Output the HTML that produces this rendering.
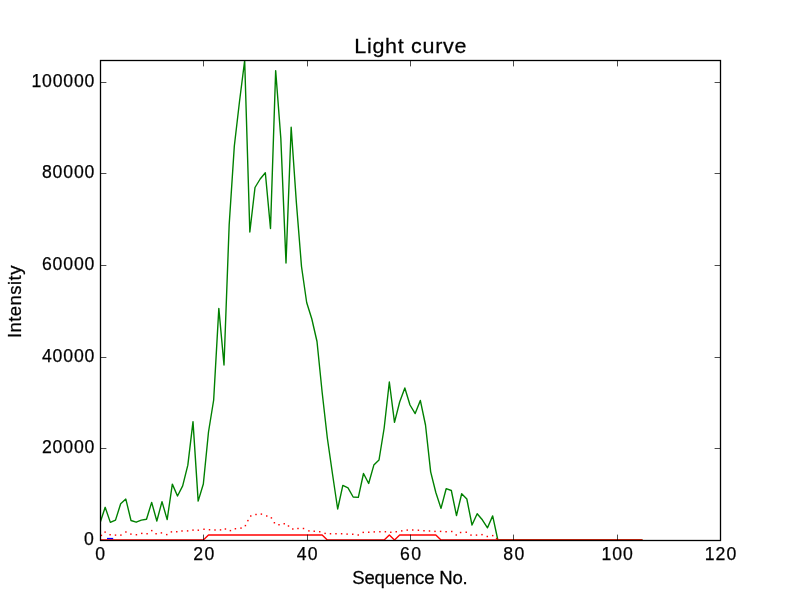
<!DOCTYPE html>
<html><head><meta charset="utf-8"><title>Light curve</title>
<style>
html,body{margin:0;padding:0;background:#fff;}
body{width:800px;height:600px;overflow:hidden;}
svg{display:block;}
text{font-family:"Liberation Sans",sans-serif;fill:#000;stroke:#000;stroke-width:0.25px;}
</style></head><body>
<svg width="800" height="600" viewBox="0 0 800 600">
<rect x="0" y="0" width="800" height="600" fill="#ffffff"/>
<defs><clipPath id="ax"><rect x="100" y="60" width="620" height="481"/></clipPath></defs>
<g clip-path="url(#ax)" fill="none" stroke-linejoin="round" stroke-linecap="butt">
<rect x="107" y="537.9" width="6.2" height="1.6" fill="#0000ff" stroke="none"/>
<polyline stroke="#008000" stroke-width="1.39" points="100.00,523.00 105.17,507.30 110.33,522.40 115.50,520.10 120.67,503.80 125.83,499.10 131.00,520.50 136.17,522.20 141.33,520.10 146.50,519.20 151.67,502.40 156.83,521.00 162.00,501.60 167.17,519.60 172.33,484.10 177.50,496.00 182.67,485.90 187.83,465.20 193.00,421.60 198.17,501.10 203.33,484.00 208.50,432.00 213.67,400.00 218.83,308.40 224.00,365.00 229.17,225.00 234.33,146.00 239.50,101.50 244.67,60.50 249.83,232.00 255.00,187.50 260.17,179.00 265.33,172.80 270.50,228.50 275.67,70.60 280.83,138.50 286.00,263.00 291.17,127.30 296.33,202.00 301.50,266.50 306.67,302.50 311.83,319.00 317.00,341.50 322.17,392.50 327.33,438.00 332.50,474.00 337.67,509.00 342.83,485.40 348.00,487.80 353.17,497.00 358.33,497.40 363.50,473.50 368.67,483.50 373.83,465.10 379.00,460.00 384.17,428.00 389.33,382.00 394.50,422.40 399.67,402.00 404.83,388.00 410.00,405.00 415.17,413.60 420.33,400.40 425.50,425.00 430.67,471.80 435.83,492.50 441.00,508.40 446.17,488.70 451.33,490.50 456.50,515.60 461.67,493.75 466.83,499.00 472.00,525.00 477.17,513.70 482.33,519.80 487.50,527.80 492.67,515.90 497.83,540.00 503.00,540.00 508.17,540.00 513.33,540.00 518.50,540.00 523.67,540.00 528.83,540.00 534.00,540.00 539.17,540.00 544.33,540.00 549.50,540.00 554.67,540.00 559.83,540.00 565.00,540.00 570.17,540.00 575.33,540.00 580.50,540.00 585.67,540.00 590.83,540.00 596.00,540.00 601.17,540.00 606.33,540.00 611.50,540.00 616.67,540.00 621.83,540.00 627.00,540.00 632.17,540.00 637.33,540.00 642.50,540.00"/>
<polyline stroke="#ff0000" stroke-width="1.39" points="100.00,540.00 105.17,540.00 110.33,540.00 115.50,540.00 120.67,540.00 125.83,540.00 131.00,540.00 136.17,540.00 141.33,540.00 146.50,540.00 151.67,540.00 156.83,540.00 162.00,540.00 167.17,540.00 172.33,540.00 177.50,540.00 182.67,540.00 187.83,540.00 193.00,540.00 198.17,540.00 203.33,540.00 208.50,535.00 213.67,535.00 218.83,535.00 224.00,535.00 229.17,535.00 234.33,535.00 239.50,535.00 244.67,535.00 249.83,535.00 255.00,535.00 260.17,535.00 265.33,535.00 270.50,535.00 275.67,535.00 280.83,535.00 286.00,535.00 291.17,535.00 296.33,535.00 301.50,535.00 306.67,535.00 311.83,535.00 317.00,535.00 322.17,535.00 327.33,540.00 332.50,540.00 337.67,540.00 342.83,540.00 348.00,540.00 353.17,540.00 358.33,540.00 363.50,540.00 368.67,540.00 373.83,540.00 379.00,540.00 384.17,540.00 389.33,535.00 394.50,540.00 399.67,535.00 404.83,535.00 410.00,535.00 415.17,535.00 420.33,535.00 425.50,535.00 430.67,535.00 435.83,535.00 441.00,540.00 446.17,540.00 451.33,540.00 456.50,540.00 461.67,540.00 466.83,540.00 472.00,540.00 477.17,540.00 482.33,540.00 487.50,540.00 492.67,540.00 497.83,540.00 503.00,540.00 508.17,540.00 513.33,540.00 518.50,540.00 523.67,540.00 528.83,540.00 534.00,540.00 539.17,540.00 544.33,540.00 549.50,540.00 554.67,540.00 559.83,540.00 565.00,540.00 570.17,540.00 575.33,540.00 580.50,540.00 585.67,540.00 590.83,540.00 596.00,540.00 601.17,540.00 606.33,540.00 611.50,540.00 616.67,540.00 621.83,540.00 627.00,540.00 632.17,540.00 637.33,540.00 642.50,540.00"/>
<g fill="#ff0000" stroke="none">
<rect x="100.68" y="534.67" width="1.45" height="1.45"/><rect x="104.38" y="531.38" width="1.45" height="1.45"/><rect x="109.38" y="534.02" width="1.45" height="1.45"/><rect x="114.78" y="534.38" width="1.45" height="1.45"/><rect x="120.18" y="534.38" width="1.45" height="1.45"/><rect x="125.18" y="531.27" width="1.45" height="1.45"/><rect x="130.18" y="533.38" width="1.45" height="1.45"/><rect x="135.68" y="534.02" width="1.45" height="1.45"/><rect x="141.03" y="532.67" width="1.45" height="1.45"/><rect x="146.38" y="533.02" width="1.45" height="1.45"/><rect x="151.03" y="529.88" width="1.45" height="1.45"/><rect x="155.38" y="533.02" width="1.45" height="1.45"/><rect x="160.68" y="532.17" width="1.45" height="1.45"/><rect x="166.03" y="533.88" width="1.45" height="1.45"/><rect x="170.68" y="531.17" width="1.45" height="1.45"/><rect x="176.03" y="531.02" width="1.45" height="1.45"/><rect x="181.28" y="530.27" width="1.45" height="1.45"/><rect x="186.88" y="530.17" width="1.45" height="1.45"/><rect x="192.28" y="529.38" width="1.45" height="1.45"/><rect x="197.58" y="529.48" width="1.45" height="1.45"/><rect x="203.28" y="528.52" width="1.45" height="1.45"/><rect x="208.78" y="529.02" width="1.45" height="1.45"/><rect x="214.28" y="529.27" width="1.45" height="1.45"/><rect x="219.78" y="529.17" width="1.45" height="1.45"/><rect x="224.68" y="528.27" width="1.45" height="1.45"/><rect x="229.68" y="529.88" width="1.45" height="1.45"/><rect x="234.68" y="528.02" width="1.45" height="1.45"/><rect x="240.28" y="527.38" width="1.45" height="1.45"/><rect x="244.68" y="524.88" width="1.45" height="1.45"/><rect x="247.18" y="519.88" width="1.45" height="1.45"/><rect x="250.03" y="515.27" width="1.45" height="1.45"/><rect x="255.28" y="513.77" width="1.45" height="1.45"/><rect x="260.67" y="513.38" width="1.45" height="1.45"/><rect x="266.02" y="515.27" width="1.45" height="1.45"/><rect x="270.67" y="517.17" width="1.45" height="1.45"/><rect x="273.67" y="522.02" width="1.45" height="1.45"/><rect x="278.27" y="524.02" width="1.45" height="1.45"/><rect x="283.52" y="523.02" width="1.45" height="1.45"/><rect x="287.77" y="525.27" width="1.45" height="1.45"/><rect x="292.07" y="528.27" width="1.45" height="1.45"/><rect x="297.27" y="527.77" width="1.45" height="1.45"/><rect x="302.77" y="527.77" width="1.45" height="1.45"/><rect x="308.17" y="530.17" width="1.45" height="1.45"/><rect x="313.52" y="530.52" width="1.45" height="1.45"/><rect x="319.02" y="531.02" width="1.45" height="1.45"/><rect x="324.38" y="532.67" width="1.45" height="1.45"/><rect x="329.77" y="533.02" width="1.45" height="1.45"/><rect x="335.27" y="533.02" width="1.45" height="1.45"/><rect x="340.88" y="533.02" width="1.45" height="1.45"/><rect x="346.38" y="533.38" width="1.45" height="1.45"/><rect x="352.02" y="533.52" width="1.45" height="1.45"/><rect x="357.52" y="534.27" width="1.45" height="1.45"/><rect x="362.52" y="531.67" width="1.45" height="1.45"/><rect x="368.02" y="531.52" width="1.45" height="1.45"/><rect x="373.52" y="531.17" width="1.45" height="1.45"/><rect x="379.17" y="531.02" width="1.45" height="1.45"/><rect x="384.67" y="531.02" width="1.45" height="1.45"/><rect x="390.07" y="531.52" width="1.45" height="1.45"/><rect x="395.52" y="531.02" width="1.45" height="1.45"/><rect x="401.02" y="530.17" width="1.45" height="1.45"/><rect x="406.52" y="529.38" width="1.45" height="1.45"/><rect x="412.02" y="529.27" width="1.45" height="1.45"/><rect x="417.67" y="529.52" width="1.45" height="1.45"/><rect x="423.27" y="530.02" width="1.45" height="1.45"/><rect x="428.77" y="530.27" width="1.45" height="1.45"/><rect x="434.27" y="530.67" width="1.45" height="1.45"/><rect x="439.88" y="530.67" width="1.45" height="1.45"/><rect x="445.38" y="531.02" width="1.45" height="1.45"/><rect x="451.02" y="530.77" width="1.45" height="1.45"/><rect x="455.52" y="534.27" width="1.45" height="1.45"/><rect x="459.88" y="531.77" width="1.45" height="1.45"/><rect x="465.52" y="531.52" width="1.45" height="1.45"/><rect x="470.27" y="534.38" width="1.45" height="1.45"/><rect x="475.77" y="534.38" width="1.45" height="1.45"/><rect x="481.27" y="533.92" width="1.45" height="1.45"/><rect x="486.57" y="535.77" width="1.45" height="1.45"/><rect x="491.97" y="534.88" width="1.45" height="1.45"/><rect x="495.88" y="537.88" width="1.45" height="1.45"/>
</g>
</g>
<g stroke="#000" stroke-width="0.7" fill="none">
<line x1="100.5" y1="540.5" x2="100.5" y2="534.6" /><line x1="100.5" y1="60.5" x2="100.5" y2="66.4" />
<line x1="203.5" y1="540.5" x2="203.5" y2="534.6" /><line x1="203.5" y1="60.5" x2="203.5" y2="66.4" />
<line x1="307.5" y1="540.5" x2="307.5" y2="534.6" /><line x1="307.5" y1="60.5" x2="307.5" y2="66.4" />
<line x1="410.5" y1="540.5" x2="410.5" y2="534.6" /><line x1="410.5" y1="60.5" x2="410.5" y2="66.4" />
<line x1="513.5" y1="540.5" x2="513.5" y2="534.6" /><line x1="513.5" y1="60.5" x2="513.5" y2="66.4" />
<line x1="617.5" y1="540.5" x2="617.5" y2="534.6" /><line x1="617.5" y1="60.5" x2="617.5" y2="66.4" />
<line x1="720.5" y1="540.5" x2="720.5" y2="534.6" /><line x1="720.5" y1="60.5" x2="720.5" y2="66.4" />
<line x1="100.5" y1="540.5" x2="106.4" y2="540.5" /><line x1="720.5" y1="540.5" x2="714.6" y2="540.5" />
<line x1="100.5" y1="448.5" x2="106.4" y2="448.5" /><line x1="720.5" y1="448.5" x2="714.6" y2="448.5" />
<line x1="100.5" y1="357.5" x2="106.4" y2="357.5" /><line x1="720.5" y1="357.5" x2="714.6" y2="357.5" />
<line x1="100.5" y1="265.5" x2="106.4" y2="265.5" /><line x1="720.5" y1="265.5" x2="714.6" y2="265.5" />
<line x1="100.5" y1="173.5" x2="106.4" y2="173.5" /><line x1="720.5" y1="173.5" x2="714.6" y2="173.5" />
<line x1="100.5" y1="82.5" x2="106.4" y2="82.5" /><line x1="720.5" y1="82.5" x2="714.6" y2="82.5" />
</g>
<rect x="100.5" y="60.5" width="620" height="480" fill="none" stroke="#000" stroke-width="1.3"/>
<g opacity="0.999">
<text transform="translate(95.25 560.00) scale(1.0000 1)" x="0" y="0" font-size="17.66" textLength="10.50" lengthAdjust="spacing">0</text>
<text transform="translate(193.33 560.00) scale(1.0000 1)" x="0" y="0" font-size="17.66" textLength="21.00" lengthAdjust="spacing">20</text>
<text transform="translate(296.67 560.00) scale(1.0000 1)" x="0" y="0" font-size="17.66" textLength="21.00" lengthAdjust="spacing">40</text>
<text transform="translate(400.00 560.00) scale(1.0000 1)" x="0" y="0" font-size="17.66" textLength="21.00" lengthAdjust="spacing">60</text>
<text transform="translate(503.33 560.00) scale(1.0000 1)" x="0" y="0" font-size="17.66" textLength="21.00" lengthAdjust="spacing">80</text>
<text transform="translate(601.42 560.00) scale(1.0000 1)" x="0" y="0" font-size="17.66" textLength="31.50" lengthAdjust="spacing">100</text>
<text transform="translate(704.75 560.00) scale(1.0000 1)" x="0" y="0" font-size="17.66" textLength="31.50" lengthAdjust="spacing">120</text>
<text transform="translate(83.90 544.70) scale(1.0000 1)" x="0" y="0" font-size="17.66" textLength="10.50" lengthAdjust="spacing">0</text>
<text transform="translate(41.90 452.70) scale(1.0000 1)" x="0" y="0" font-size="17.66" textLength="52.50" lengthAdjust="spacing">20000</text>
<text transform="translate(41.90 361.70) scale(1.0000 1)" x="0" y="0" font-size="17.66" textLength="52.50" lengthAdjust="spacing">40000</text>
<text transform="translate(41.90 269.70) scale(1.0000 1)" x="0" y="0" font-size="17.66" textLength="52.50" lengthAdjust="spacing">60000</text>
<text transform="translate(41.90 177.70) scale(1.0000 1)" x="0" y="0" font-size="17.66" textLength="52.50" lengthAdjust="spacing">80000</text>
<text transform="translate(31.40 86.70) scale(1.0000 1)" x="0" y="0" font-size="17.66" textLength="63.00" lengthAdjust="spacing">100000</text>
<text transform="translate(354.25 52.80) scale(1.0500 1)" x="0" y="0" font-size="20.50" textLength="106.95" lengthAdjust="spacing">Light curve</text>
<text transform="translate(352.25 584.30) scale(1.0500 1)" x="0" y="0" font-size="17.66" textLength="110.00" lengthAdjust="spacing">Sequence No.</text>
<text transform="translate(21.00 338.10) rotate(-90) scale(1.0500 1)" x="0" y="0" font-size="17.66" textLength="69.05" lengthAdjust="spacing">Intensity</text>
</g>
</svg>
</body></html>
